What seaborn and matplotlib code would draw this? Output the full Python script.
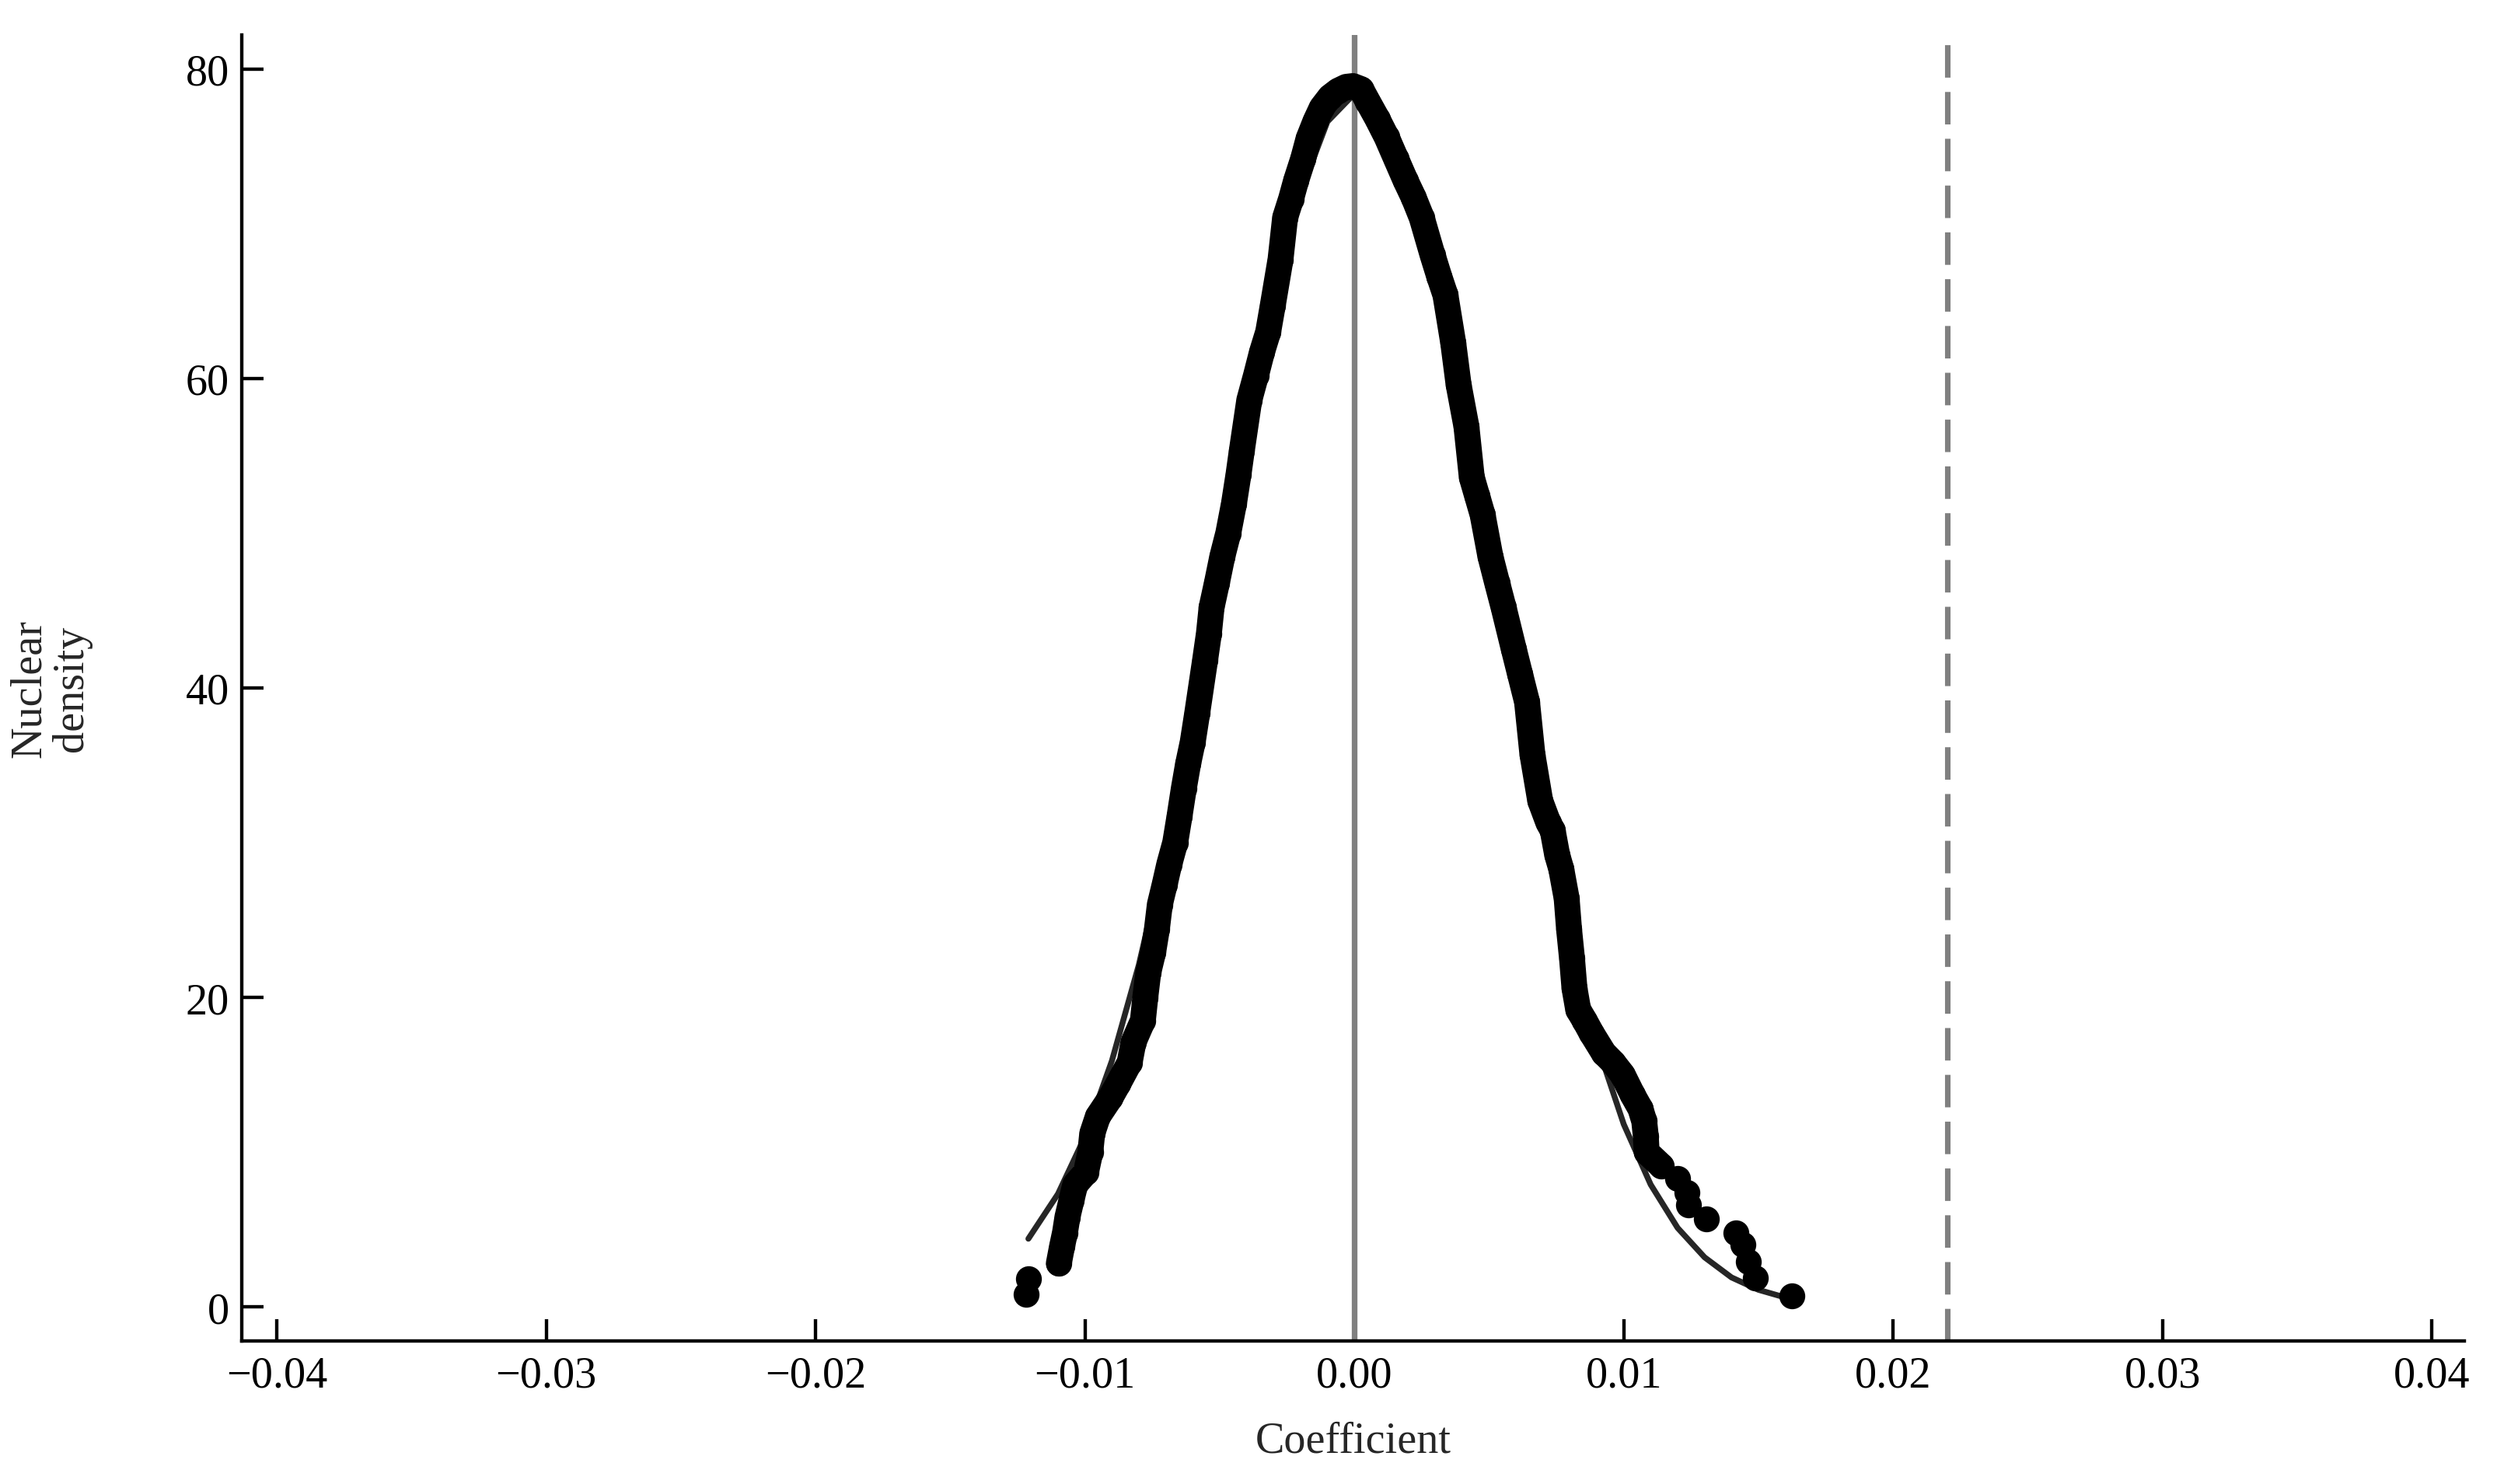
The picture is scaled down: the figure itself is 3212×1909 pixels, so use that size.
"""Placebo test: kernel density of placebo coefficients vs. normal curve."""

import matplotlib

matplotlib.use("Agg")
import matplotlib.pyplot as plt
import seaborn as sns

sns.set_theme(style="ticks")
plt.rcParams["font.family"] = ["Liberation Serif", "DejaVu Serif"]
plt.rcParams["axes.unicode_minus"] = True

# --- kernel density points (coefficient, density) ---
kde_x = [-0.01218, -0.01209,
         -0.01097, -0.01085, -0.01074, -0.01065, -0.01050, -0.01036, -0.00996,
         -0.00980, -0.00973, -0.00952, -0.00906, -0.00877, -0.00834, -0.00820,
         -0.00785, -0.00776, -0.00765, -0.00747, -0.00733, -0.00722, -0.00704,
         -0.00687, -0.00665, -0.00649, -0.00633, -0.00617, -0.00600, -0.00583,
         -0.00554, -0.00540, -0.00530, -0.00510, -0.00490, -0.00468, -0.00447,
         -0.00430, -0.00418, -0.00390, -0.00365, -0.00343, -0.00320, -0.00303,
         -0.00274, -0.00257, -0.00235, -0.00216, -0.00190, -0.00170, -0.00145,
         -0.00121, -0.00090, -0.00060, -0.00030, -0.00005,
         0.00025, 0.00050, 0.00085, 0.00120, 0.00155, 0.00190, 0.00220,
         0.00250, 0.00290, 0.00315, 0.00338, 0.00367, 0.00387, 0.00416,
         0.00436, 0.00456, 0.00476, 0.00505, 0.00530, 0.00554, 0.00592,
         0.00615, 0.00641, 0.00661, 0.00690, 0.00720, 0.00736, 0.00753,
         0.00768, 0.00788, 0.00797, 0.00808, 0.00817, 0.00831, 0.00855,
         0.00880, 0.00926, 0.00960, 0.00996, 0.01033, 0.01062, 0.01076,
         0.01082, 0.01085,
         0.01140, 0.01201, 0.01235, 0.01241, 0.01307, 0.01417, 0.01443,
         0.01463, 0.01489, 0.01625]
kde_y = [0.8, 1.8,
         2.8, 3.9, 4.8, 5.8, 6.9, 7.9, 8.7,
         10.0, 11.2, 12.3, 13.5, 14.4, 15.8, 17.1,
         18.5, 20.0, 21.6, 22.9, 24.4, 26.0, 27.3,
         28.6, 30.0, 31.7, 33.5, 35.1, 36.5, 38.4,
         41.8, 43.5, 45.2, 46.8, 48.5, 50.0, 51.9,
         53.8, 55.3, 58.6, 60.2, 61.7, 63.0, 64.7,
         67.7, 70.4, 71.6, 72.8, 74.2, 75.5, 76.6,
         77.5, 78.2, 78.6, 78.85, 78.9,
         78.7, 77.9, 76.8, 75.6, 74.2, 72.8, 71.7,
         70.4, 68.0, 66.6, 65.4, 62.3, 59.6, 56.9,
         53.6, 52.4, 51.2, 48.5, 46.8, 45.2, 42.5,
         40.9, 39.1, 35.7, 32.7, 31.3, 30.8, 29.2,
         28.3, 26.4, 24.4, 22.5, 20.6, 19.2, 18.5,
         17.7, 16.4, 15.8, 15.0, 13.7, 12.8, 12.0,
         11.0, 10.0,
         9.1, 8.3, 7.4, 6.6, 5.7, 4.8, 4.0,
         2.9, 1.86, 0.7]
# dense stretch of the dot cloud (drawn as a continuous band)
band_first, band_last = 2, 100

# --- normal density curve ---
norm_x = [-0.0121, -0.011, -0.010, -0.009, -0.008, -0.007, -0.006, -0.005,
          -0.004, -0.003, -0.002, -0.001, 0.000, 0.001, 0.002, 0.003, 0.004,
          0.005, 0.006, 0.007, 0.008, 0.009, 0.010, 0.011, 0.012, 0.013,
          0.014, 0.015, 0.016, 0.0163]
norm_y = [4.4, 7.3, 11.0, 15.9, 22.1, 29.6, 38.2, 47.5,
          56.7, 65.1, 72.0, 76.6, 78.4, 77.2, 73.1, 66.6, 58.5,
          49.3, 40.0, 31.3, 23.5, 17.0, 11.8, 7.9, 5.1, 3.2,
          1.9, 1.1, 0.6, 0.5]

true_coef = 0.022
x_ticks = [-0.04, -0.03, -0.02, -0.01, 0.00, 0.01, 0.02, 0.03, 0.04]
y_ticks = [0, 20, 40, 60, 80]

DOT = 8.0  # marker diameter in points

fig = plt.figure(figsize=(3212 / 300, 1910 / 300), dpi=300)
ax = fig.add_axes([0.0968, 0.0963, 0.8901, 0.8796])

ax.axvline(0, color="#808080", lw=1.75, zorder=1)
ax.axvline(true_coef, color="#808080", lw=1.7, dashes=(5.9, 2.6), zorder=1)

sns.lineplot(x=norm_x, y=norm_y, sort=False, estimator=None, color="#262626",
             lw=1.8, ax=ax, zorder=2)
sns.lineplot(x=kde_x[band_first:band_last + 1], y=kde_y[band_first:band_last + 1],
             sort=False, estimator=None, color="black", lw=DOT,
             solid_capstyle="round", solid_joinstyle="round", ax=ax, zorder=3)
sns.scatterplot(x=kde_x, y=kde_y, s=DOT ** 2, color="black", linewidth=0,
                ax=ax, zorder=4)

ax.set_xlim(-0.0413, 0.0412)
ax.set_ylim(-2.21, 82.2)
ax.set_xticks(x_ticks)
ax.set_xticklabels([f"{t:.2f}".replace("-", "\u2212") for t in x_ticks])
ax.set_yticks(y_ticks)

sns.despine(ax=ax)
for side in ("left", "bottom"):
    ax.spines[side].set_linewidth(1.05)
    ax.spines[side].set_color("black")
ax.tick_params(direction="in", length=6.7, width=1.05, colors="black",
               labelsize=13.5)
ax.tick_params(axis="x", pad=4.5)
ax.tick_params(axis="y", pad=3.8)

ax.set_xlabel("Coefficient", fontsize=13.5, labelpad=7.5)
ax.set_ylabel("Nuclear\ndensity", fontsize=13.5, labelpad=29, linespacing=1.05)

fig.savefig("out.png", dpi=300)
